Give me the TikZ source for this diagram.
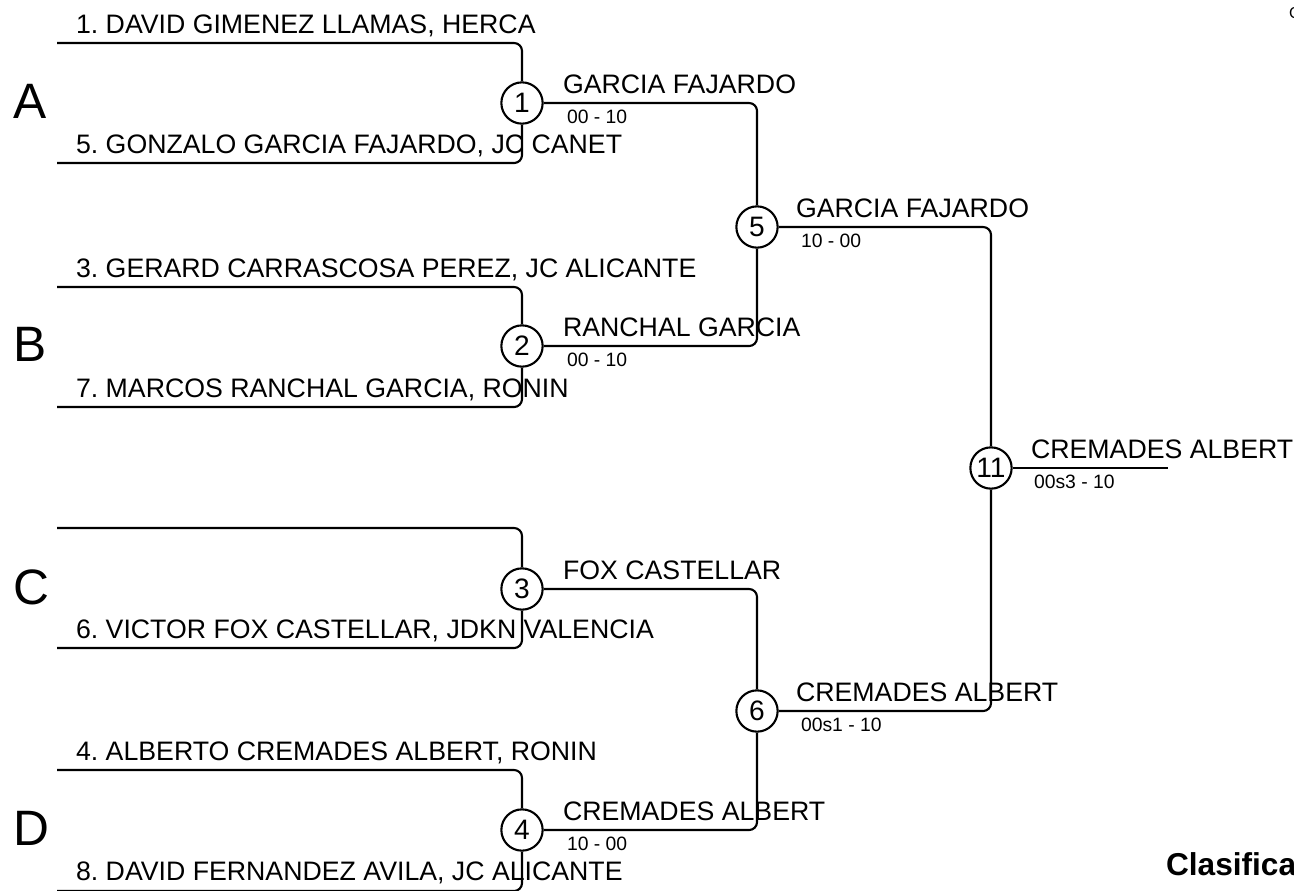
\documentclass[tikz,border=0pt]{standalone}
\usepackage{fontspec}
\setmainfont{Liberation Sans}
\frenchspacing
\begin{document}
\begin{tikzpicture}[x=0.02cm, y=-0.02cm, line width=1.2pt,
    bout/.style={draw, circle, minimum size=23.5pt, inner sep=0pt, font=\fontsize{16}{16}\selectfont},
    player/.style={anchor=base west, inner sep=0pt, font=\fontsize{15.2}{15.2}\selectfont},
    score/.style={anchor=base west, inner sep=0pt, font=\fontsize{11}{11}\selectfont},
    group/.style={anchor=base west, inner sep=0pt, font=\fontsize{28.3}{28.3}\selectfont},
    bracket/.style={rounded corners=4.5pt}]
    \useasboundingbox (0,0) rectangle (1294,890);
    \clip (0,0) rectangle (1294,890);
    % bouts
    \node[bout] (1) at (522,103) {1};
    \node[bout] (2) at (522,346) {2};
    \node[bout] (3) at (522,589) {3};
    \node[bout] (4) at (522,830) {4};
    \node[bout] (5) at (757,227) {5};
    \node[bout] (6) at (757,711) {6};
    \node[bout] (11) at (991,468) {11};
    % entry lines
    \coordinate (e1) at (57,43);
    \coordinate (e5) at (57,163);
    \coordinate (e3) at (57,287);
    \coordinate (e7) at (57,407);
    \coordinate (ec) at (57,528);
    \coordinate (e6) at (57,648);
    \coordinate (e4) at (57,770);
    \coordinate (e8) at (57,891);
    \coordinate (fin) at (1168,468);
    \draw[bracket] (e1) -| (1);
    \draw[bracket] (e5) -| (1);
    \draw[bracket] (e3) -| (2);
    \draw[bracket] (e7) -| (2);
    \draw[bracket] (ec) -| (3);
    \draw[bracket] (e6) -| (3);
    \draw[bracket] (e4) -| (4);
    \draw[bracket] (e8) -| (4);
    \draw[bracket] (1) -| (5);
    \draw[bracket] (2) -| (5);
    \draw[bracket] (3) -| (6);
    \draw[bracket] (4) -| (6);
    \draw[bracket] (5) -| (11);
    \draw[bracket] (6) -| (11);
    \draw (11) -- (fin);
    % groups
    \node[group] (gA) at (12,118) {A};
    \node[group] (gB) at (12,361) {B};
    \node[group] (gC) at (12,604) {C};
    \node[group] (gD) at (12,845) {D};
    % players
    \node[player] (p1) at (75,33) {1. DAVID GIMENEZ LLAMAS, HERCA};
    \node[player] (p5) at (75,153) {5. GONZALO GARCIA FAJARDO, JC CANET};
    \node[player] (p3) at (75,277) {3. GERARD CARRASCOSA PEREZ, JC ALICANTE};
    \node[player] (p7) at (75,397) {7. MARCOS RANCHAL GARCIA, RONIN};
    \node[player] (p6) at (75,638) {6. VICTOR FOX CASTELLAR, JDKN VALENCIA};
    \node[player] (p4) at (75,760) {4. ALBERTO CREMADES ALBERT, RONIN};
    \node[player] (p8) at (75,880) {8. DAVID FERNANDEZ AVILA, JC ALICANTE};
    % winners and scores
    \node[player] (w1) at (562,93) {GARCIA FAJARDO};
    \node[score] (s1) at (566,123) {00 - 10};
    \node[player] (w2) at (562,336) {RANCHAL GARCIA};
    \node[score] (s2) at (566,366) {00 - 10};
    \node[player] (w3) at (562,579) {FOX CASTELLAR};
    \node[player] (w4) at (562,820) {CREMADES ALBERT};
    \node[score] (s4) at (566,850) {10 - 00};
    \node[player] (w5) at (795,217) {GARCIA FAJARDO};
    \node[score] (s5) at (800,247) {10 - 00};
    \node[player] (w6) at (795,701) {CREMADES ALBERT};
    \node[score] (s6) at (800,731) {00s1 - 10};
    \node[player] (w11) at (1030,458) {CREMADES ALBERT};
    \node[score] (s11) at (1033,488) {00s3 - 10};
    % cut-off texts at the right edge
    \node[anchor=base west, inner sep=0pt, font=\fontsize{9}{9}\selectfont] (top) at (1288,18) {C};
    \node[anchor=base west, inner sep=0pt, font=\bfseries\fontsize{18}{18}\selectfont] (clas) at (1165,875) {Clasificación};
\end{tikzpicture}
\end{document}
